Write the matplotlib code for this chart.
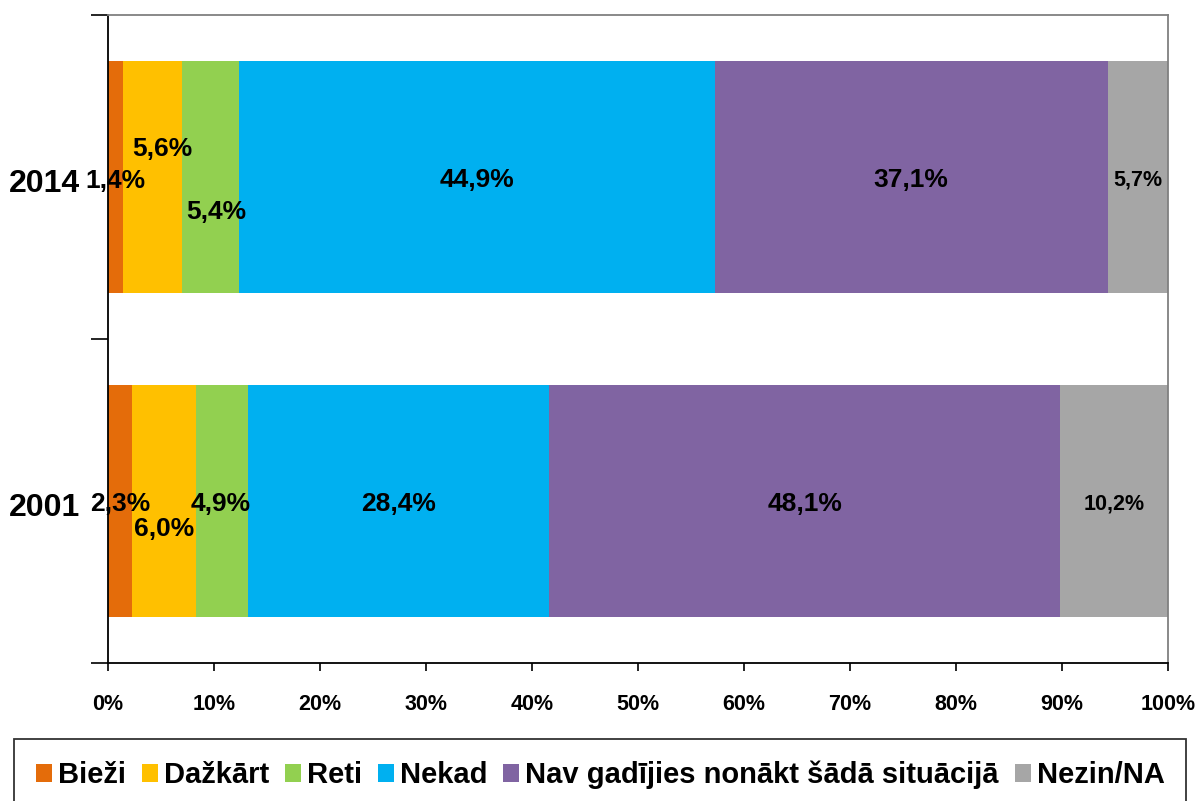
import matplotlib
matplotlib.use("Agg")
import matplotlib.pyplot as plt
import matplotlib.transforms as mtransforms
from matplotlib.patches import Patch
from matplotlib.ticker import PercentFormatter
import numpy as np

plt.rcParams['font.family'] = ['Liberation Sans', 'DejaVu Sans']
plt.rcParams['font.weight'] = 'bold'

# data
years = ['2001', '2014']
categories = ['Bieži', 'Dažkārt', 'Reti', 'Nekad',
              'Nav gadījies nonākt šādā situācijā', 'Nezin/NA']
vals_2001 = [2.3, 6.0, 4.9, 28.4, 48.1, 10.2]
vals_2014 = [1.4, 5.6, 5.4, 44.9, 37.1, 5.7]
colors = ['#E46C0A', '#FFC000', '#92D050', '#00B0F0', '#8064A2', '#A6A6A6']

# hand-placed label offsets (pixels), like dragged labels in the original
offsets_2001 = [(0, -3), (0, -28), (-1, -3), (0, -3), (0, -3), (0, -3)]
offsets_2014 = [(0, -4), (10, 28), (6, -35), (0, -3), (0, -3), (0, -3)]

data = np.array([vals_2001, vals_2014])
shares = data / data.sum(axis=1, keepdims=True) * 100

fig = plt.figure(figsize=(12, 8.01), dpi=100)
ax = fig.add_axes([108 / 1200, 1 - 663 / 801, 1060 / 1200, 648 / 801])

ypos = np.arange(len(years))
left = np.zeros(len(years))
for j, cat in enumerate(categories):
    ax.barh(ypos, shares[:, j], left=left, height=0.714, color=colors[j], linewidth=0)
    for i in range(len(years)):
        raw = data[i, j]
        off = (offsets_2001 if i == 0 else offsets_2014)[j]
        fs = 15.5 if j == 5 else 19
        ax.annotate(f"{raw:.1f}%".replace('.', ','),
                    xy=(left[i] + shares[i, j] / 2, ypos[i]),
                    xytext=off, textcoords='offset pixels',
                    ha='center', va='center', fontsize=fs, fontweight='bold',
                    color='black')
    left += shares[:, j]

ax.set_xlim(0, 100)
ax.set_ylim(-0.5, 1.5)
ax.xaxis.set_major_formatter(PercentFormatter(decimals=0))
ax.set_xticks(np.arange(0, 101, 10))
ax.tick_params(axis='x', length=6, width=1.2, pad=16, labelsize=15.5)

ax.set_yticks([-0.5, 0.5, 1.5])
ax.set_yticklabels([])
ax.set_yticks(ypos, years, minor=True)
ax.tick_params(axis='y', which='major', length=12, width=1.2)
ax.tick_params(axis='y', which='minor', length=0, pad=20, labelsize=23)
shift = mtransforms.ScaledTranslation(0, -4 / 100, fig.dpi_scale_trans)
for t in ax.get_yticklabels(minor=True):
    t.set_transform(t.get_transform() + shift)

for s in ['left', 'bottom']:
    ax.spines[s].set_color('black')
    ax.spines[s].set_linewidth(1.3)
for s in ['top', 'right']:
    ax.spines[s].set_color('#808080')
    ax.spines[s].set_linewidth(1.3)

handles = [Patch(facecolor=c, edgecolor='none') for c in colors]
leg = fig.legend(handles, categories, loc='upper left',
                 bbox_to_anchor=(14 / 1200, 1 - 739 / 801),
                 ncol=6, fontsize=21, frameon=True, fancybox=False,
                 edgecolor='black', handlelength=0.55, handleheight=0.55,
                 handletextpad=0.2, columnspacing=0.55, borderpad=0.75,
                 borderaxespad=0)
leg.get_frame().set_linewidth(1.3)
for t in leg.get_texts():
    t.set_fontweight('bold')

fig.savefig('out.png', dpi=100)
